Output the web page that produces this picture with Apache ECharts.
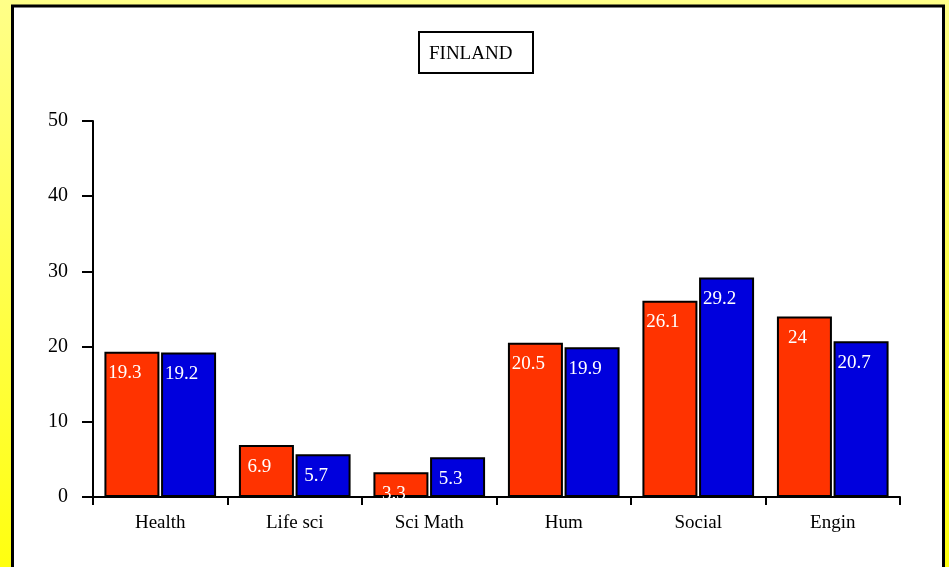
<!DOCTYPE html>
<html>
<head>
<meta charset="utf-8">
<script src="https://cdn.jsdelivr.net/npm/echarts@6/dist/echarts.min.js"></script>
<style>html,body{margin:0;padding:0;}#c{width:949px;height:567px;}</style>
</head>
<body>
<div id="c"></div>
<script>
var categories = ['Health', 'Life sci', 'Sci Math', 'Hum', 'Social', 'Engin'];
var seriesRed = [19.3, 6.9, 3.3, 20.5, 26.1, 24];
var seriesBlue = [19.2, 5.7, 5.3, 19.9, 29.2, 20.7];
var yTicks = { min: 0, max: 50, interval: 10 };

var font = 'Liberation Serif, Times New Roman, serif';
var chart = echarts.init(document.getElementById('c'), null, { renderer: 'canvas' });
var labelCfg = {
  show: true, position: 'insideTop', distance: 12, offset: [-7, 0],
  color: '#ffffff', fontFamily: font, fontSize: 19
};
chart.setOption({
  backgroundColor: {
    type: 'linear', x: 0, y: 0, x2: 0, y2: 1,
    colorStops: [{ offset: 0, color: '#ffff88' }, { offset: 1, color: '#ffff10' }]
  },
  animation: false,
  graphic: [{
    type: 'rect', z: -10, silent: true,
    shape: { x: 12.5, y: 6, width: 931, height: 580 },
    style: { fill: '#ffffff', stroke: '#000000', lineWidth: 3 }
  }],
  title: {
    text: 'FINLAND', left: 419, top: 32,
    padding: [13, 21, 9, 10],
    borderColor: '#000000', borderWidth: 2, backgroundColor: '#ffffff',
    textStyle: { fontFamily: font, fontSize: 19, fontWeight: 'normal', color: '#000000' }
  },
  grid: { left: 93, right: 49, top: 121, bottom: 70, containLabel: false },
  xAxis: {
    type: 'category', data: categories,
    axisLine: { lineStyle: { color: '#000000', width: 2 } },
    axisTick: { show: true, length: 8, lineStyle: { color: '#000000', width: 2 } },
    axisLabel: { margin: 17, fontFamily: font, fontSize: 19, color: '#000000' }
  },
  yAxis: {
    type: 'value', min: yTicks.min, max: yTicks.max, interval: yTicks.interval,
    axisLine: { show: true, lineStyle: { color: '#000000', width: 2 } },
    axisTick: { show: true, length: 11, lineStyle: { color: '#000000', width: 2 } },
    splitLine: { show: false },
    axisLabel: { margin: 25, padding: [5, 0, 0, 0], fontFamily: font, fontSize: 20, color: '#000000' }
  },
  series: [{
    type: 'bar', data: seriesRed, barWidth: 55, barGap: '3%',
    itemStyle: { color: '#ff3300', borderColor: '#000000', borderWidth: 2 },
    label: labelCfg
  }, {
    type: 'bar', data: seriesBlue, barWidth: 55, barGap: '3%',
    itemStyle: { color: '#0000dd', borderColor: '#000000', borderWidth: 2 },
    label: labelCfg
  }]
});
</script>
</body>
</html>
